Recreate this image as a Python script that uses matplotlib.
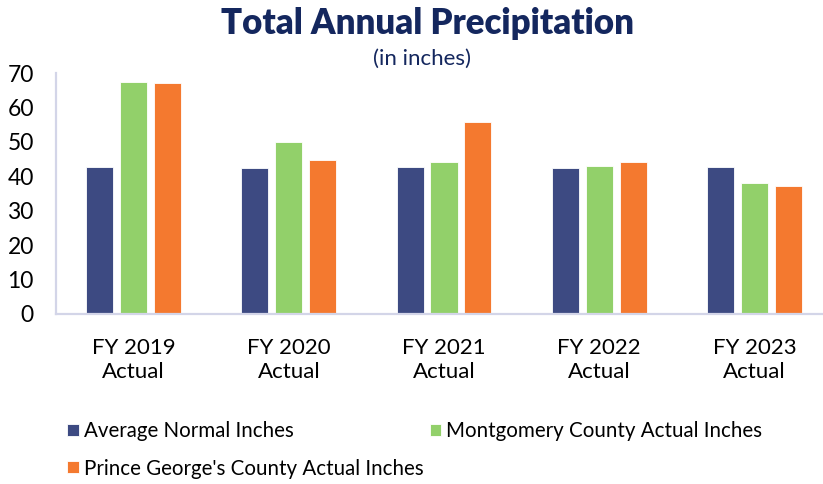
import matplotlib.pyplot as plt
import numpy as np

plt.rcParams["font.family"] = ["Lato", "DejaVu Sans"]

categories = ["FY 2019\nActual", "FY 2020\nActual", "FY 2021\nActual", "FY 2022\nActual", "FY 2023\nActual"]
average_normal = [42.6, 42.4, 42.6, 42.5, 42.6]
montgomery = [67.4, 50.0, 44.2, 43.0, 38.0]
prince_georges = [67.2, 44.8, 55.7, 44.1, 37.2]
series_names = [
    "Average Normal Inches",
    "Montgomery County Actual Inches",
    "Prince George's County Actual Inches",
]
colors = ["#3D4A82", "#92D06A", "#F4792F"]

fig = plt.figure(figsize=(8.23, 4.84), dpi=100)
ax = fig.add_axes([56 / 823, 1 - 314 / 484, (832 - 56) / 823, (314 - 73) / 484])

x = np.arange(len(categories))
width = 0.174
offsets = [-0.219, 0.0, 0.219]
handles = []
for vals, off, col, name in zip([average_normal, montgomery, prince_georges], offsets, colors, series_names):
    b = ax.bar(x + off, vals, width, color=col, edgecolor="white", linewidth=0.6, label=name)
    handles.append(b)

ax.set_xlim(-0.5, 4.5)
ax.set_ylim(0, 70)
ax.set_yticks(range(0, 71, 10))
ax.set_xticks(x)
ax.set_xticklabels(categories, fontsize=16, linespacing=1.3)
ax.tick_params(axis="y", length=0, pad=16, labelsize=16.5)
ax.tick_params(axis="x", length=0, pad=17)
for side in ["top", "right"]:
    ax.spines[side].set_visible(False)
for side in ["left", "bottom"]:
    ax.spines[side].set_color("#D3D5E8")
    ax.spines[side].set_linewidth(1.6)

fig.text(0.519, 0.952, "Total Annual Precipitation", ha="center", va="center",
         fontsize=25, fontweight="heavy", color="#14275E")
fig.text(0.513, 0.878, "(in inches)", ha="center", va="center", fontsize=16, color="#14275E")

# two columns, filled top-down: first column holds the normal and PG series
order = [0, 2, 1]
fig.legend(handles=[handles[i] for i in order], labels=[series_names[i] for i in order],
           loc="upper left", bbox_to_anchor=(0.082, 0.13), ncol=2, frameon=False, fontsize=14.8,
           handlelength=0.55, handleheight=0.55, handletextpad=0.25,
           columnspacing=0.3, labelspacing=0.85, borderaxespad=0, borderpad=0)

fig.savefig("out.png", dpi=100)
